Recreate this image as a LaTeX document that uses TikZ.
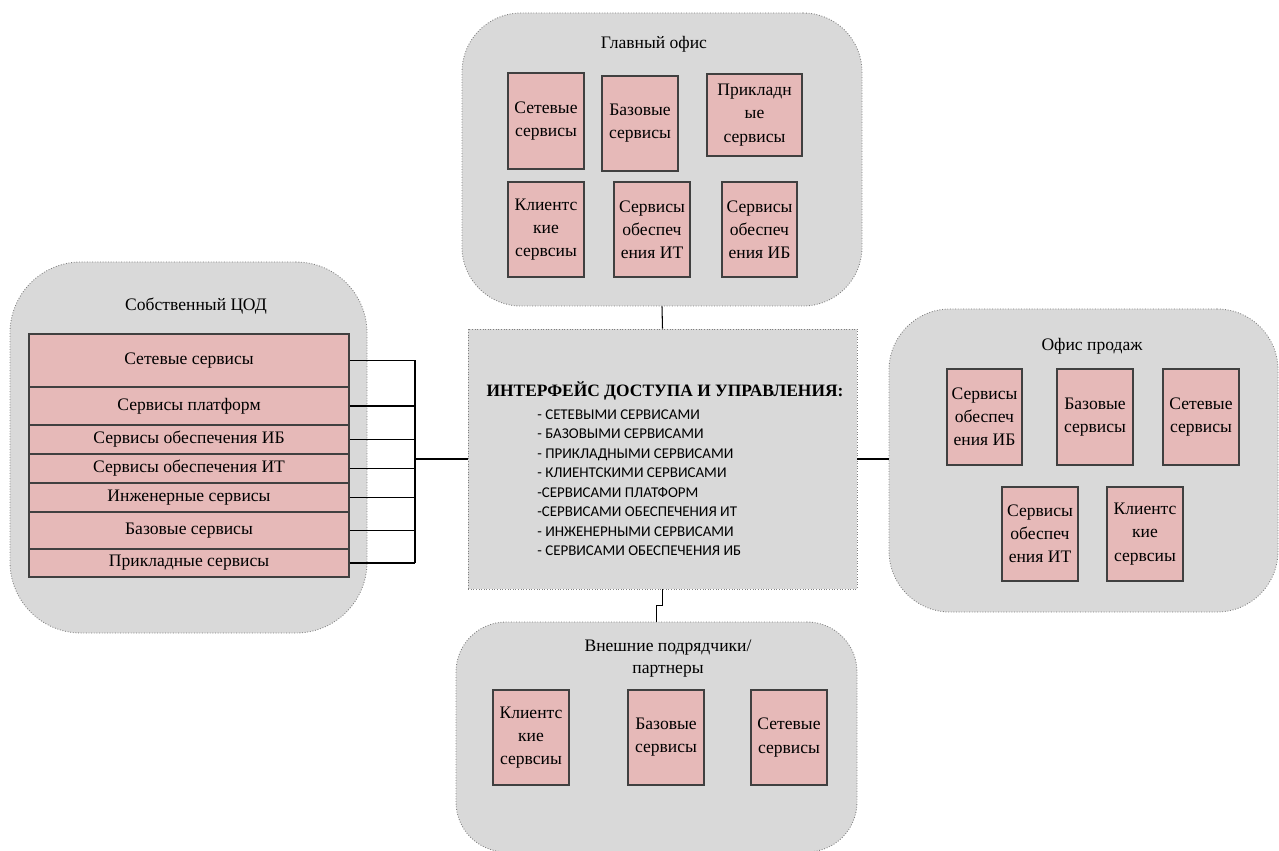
\documentclass[tikz,border=0pt]{standalone}
\usepackage{fontspec}
\setmainfont{Liberation Serif}
\newfontfamily\listfont{Carlito}
\usetikzlibrary{fit}
\definecolor{groupgray}{HTML}{D9D9D9}
\definecolor{svcpink}{HTML}{E6B9B8}
\definecolor{edgegray}{HTML}{404040}
\begin{document}
\begin{tikzpicture}[x=0.02cm,y=-0.02cm,
  group/.style={draw=gray, densely dotted, fill=groupgray, line width=0.5pt, inner sep=0pt},
  sz/.style 2 args={minimum width=#1*0.02cm, minimum height=#2*0.02cm},
  svc/.style={draw=edgegray, fill=svcpink, line width=0.7pt, inner sep=0pt, align=center,
    font=\fontsize{10}{13.2}\selectfont},
  rowbox/.style={draw=edgegray, fill=svcpink, line width=0.7pt, inner sep=0pt, align=center,
    minimum width=320*0.02cm, font=\fontsize{10}{12}\selectfont},
  ttl/.style={align=center, inner sep=0pt, font=\fontsize{10}{12.5}\selectfont},
  conn/.style={draw=black, line width=0.6pt}]
\useasboundingbox (0,0) rectangle (1279,851);

% ---------- group containers ----------
\node[group, rounded corners=1.18cm, fit={(462,13)(862,306)}] (top) {};
\node[group, rounded corners=1.42cm, fit={(10,262)(367,633)}] (left) {};
\node[group, rounded corners=1.22cm, fit={(889,309)(1278,612)}] (right) {};
\node[group, rounded corners=1.0cm, fit={(456,622)(857,852)}] (bottom) {};
\node[group, fit={(468,329)(857,589)}] (center) {};

% ---------- Главный офис ----------
\node[ttl] (toptitle) at (654,44) {Главный офис};
\node[svc, sz={76}{96}] (t1) at (546,121) {Сетевые\\сервисы};
\node[svc, sz={76}{95}] (t2) at (640,123.5) {Базовые\\сервисы};
\node[svc, sz={95}{82}] (t3) at (754.5,115) {Прикладн\\ые\\сервисы};
\node[svc, sz={76}{95}] (t4) at (546,229.5) {Клиентс\\кие\\сервсиы};
\node[svc, sz={76}{95}] (t5) at (652,229.5) {Сервисы\\обеспеч\\ения ИТ};
\node[svc, sz={75}{95}] (t6) at (759.5,229.5) {Сервисы\\обеспеч\\ения ИБ};

% ---------- Собственный ЦОД ----------
\node[ttl] (lefttitle) at (196,306) {Собственный ЦОД};
\node[rowbox, minimum height=53*0.02cm] (r1) at (189,360.5) {Сетевые сервисы};
\node[rowbox, minimum height=38*0.02cm] (r2) at (189,406) {Сервисы платформ};
\node[rowbox, minimum height=29*0.02cm] (r3) at (189,439.5) {Сервисы обеспечения ИБ};
\node[rowbox, minimum height=29*0.02cm] (r4) at (189,468.5) {Сервисы обеспечения ИТ};
\node[rowbox, minimum height=29*0.02cm] (r5) at (189,497.5) {Инженерные сервисы};
\node[rowbox, minimum height=37*0.02cm] (r6) at (189,530.5) {Базовые сервисы};
\node[rowbox, minimum height=28*0.02cm] (r7) at (189,563) {Прикладные сервисы};

% ---------- Офис продаж ----------
\node[ttl] (righttitle) at (1092,346) {Офис продаж};
\node[svc, sz={75}{96}] (s1) at (984.5,417) {Сервисы\\обеспеч\\ения ИБ};
\node[svc, sz={76}{96}] (s2) at (1095,417) {Базовые\\сервисы};
\node[svc, sz={76}{96}] (s3) at (1201,417) {Сетевые\\сервисы};
\node[svc, sz={76}{94}] (s4) at (1040,534) {Сервисы\\обеспеч\\ения ИТ};
\node[svc, sz={76}{94}] (s5) at (1145,534) {Клиентс\\кие\\сервсиы};

% ---------- Внешние подрядчики ----------
\node[ttl] (bottomtitle) at (668,659) {Внешние подрядчики/\\партнеры};
\node[svc, sz={76}{95}] (b1) at (531,737.5) {Клиентс\\кие\\сервсиы};
\node[svc, sz={76}{95}] (b2) at (666,737.5) {Базовые\\сервисы};
\node[svc, sz={76}{95}] (b3) at (789,737.5) {Сетевые\\сервисы};

% ---------- центр ----------
\node[inner sep=0pt, font=\fontsize{9.9}{12}\selectfont\bfseries] (ctitle) at (665,391)
  {ИНТЕРФЕЙС ДОСТУПА И УПРАВЛЕНИЯ:};
\node[anchor=north west, align=left, inner sep=0pt,
  font=\listfont\fontsize{8.5}{11.1}\selectfont] (clist) at (537,409)
  {- СЕТЕВЫМИ СЕРВИСАМИ\\
   - БАЗОВЫМИ СЕРВИСАМИ\\
   - ПРИКЛАДНЫМИ СЕРВИСАМИ\\
   - КЛИЕНТСКИМИ СЕРВИСАМИ\\
   -СЕРВИСАМИ ПЛАТФОРМ\\
   -СЕРВИСАМИ ОБЕСПЕЧЕНИЯ ИТ\\
   - ИНЖЕНЕРНЫМИ СЕРВИСАМИ\\
   - СЕРВИСАМИ ОБЕСПЕЧЕНИЯ ИБ};

% ---------- соединения ----------
\coordinate (bus) at (415,460);
\foreach \r in {r1,r2,r3,r4,r5,r6,r7}
  \draw[conn] (\r.east) -- (\r.east -| bus);
\draw[conn] (r1.east -| bus) -- (r7.east -| bus);
\draw[conn] (center.west) -- (center.west -| bus);
\draw[conn] (top.south) -- (center.north);
\draw[conn] (center.east) -- (center.east -| right.west);
\draw[conn] (center.south) -- ++(0,16) -| (bottom.north);
\end{tikzpicture}
\end{document}
